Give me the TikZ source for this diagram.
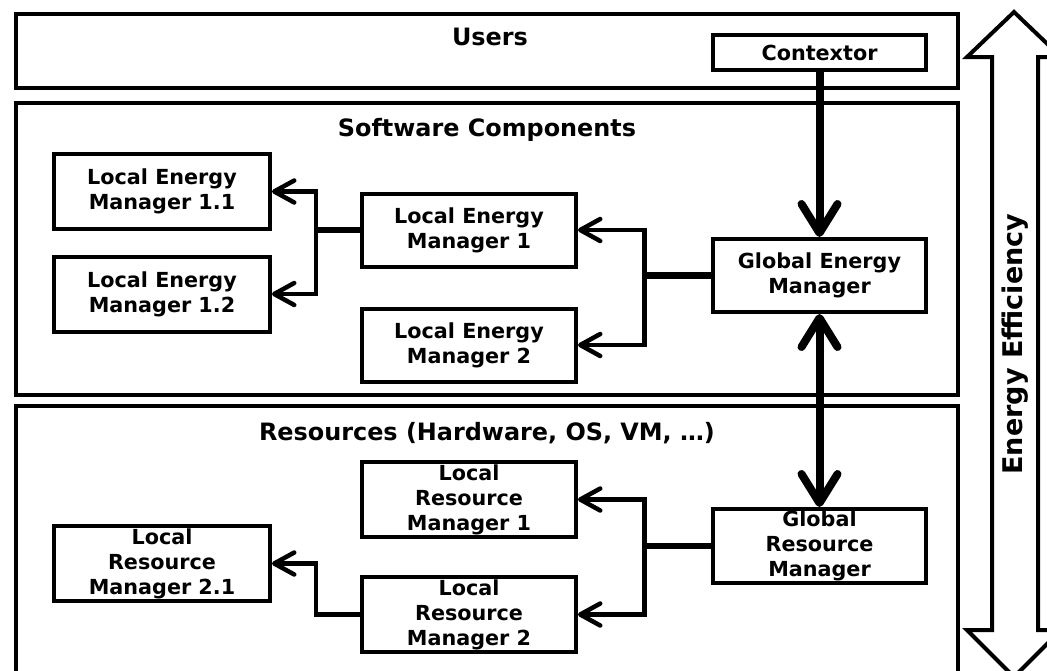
\documentclass[tikz,border=0pt]{standalone}
\usepackage{fontspec}
\setmainfont{DejaVu Sans}
\usetikzlibrary{arrows.meta,positioning,calc}

\begin{document}
\begin{tikzpicture}[
  x=0.02cm, y=-0.02cm,
  font=\fontsize{11.8}{14.2}\selectfont\bfseries,
  layer/.style={draw,line width=0.08cm,minimum width=18.84cm,inner sep=0pt},
  ttl/.style={inner sep=0pt,font=\fontsize{13.6}{16}\selectfont\bfseries},
  comp/.style={draw,line width=0.08cm,align=center,minimum width=4.28cm,minimum height=1.46cm,inner sep=0pt},
  ar/.style={line width=0.09cm,>={Straight Barb[length=0.4cm,width=0.44cm,round]}},
  stem/.style={line width=0.13cm},
  bigar/.style={line width=0.16cm,>={Straight Barb[length=0.58cm,width=0.72cm,round]}}
]
\useasboundingbox (0,0) rectangle (1047,670);
\clip (0,0) rectangle (1047,670);

% layers
\node[layer,minimum height=1.48cm] (users) at (487,51) {};
\node[layer,minimum height=5.84cm] (soft) at (487,249) {};
\node[layer,minimum height=5.84cm] (res) at (487,552) {};
\node[ttl] (userst) at (490,37) {Users};
\node[ttl] (softt) at (487,130) {Software Components};
\node[ttl] (rest) at (487,433) {Resources (Hardware, OS, VM, \dots)};

% components
\node[comp,minimum height=0.7cm,minimum width=4.26cm] (ctx) at (819.5,52.5) {Contextor};
\node[comp] (gem) at (819.5,275.5) {Global Energy\\Manager};
\node[comp,minimum height=1.48cm] (grm) at (819.5,546) {Global\\Resource\\Manager};
\node[comp] (lem1) at (469,230) {Local Energy\\Manager 1};
\node[comp] (lem2) at (469,345) {Local Energy\\Manager 2};
\node[comp,minimum width=4.32cm,minimum height=1.5cm] (lem11) at (162,191.5) {Local Energy\\Manager 1.1};
\node[comp,minimum width=4.32cm,minimum height=1.5cm] (lem12) at (162,294) {Local Energy\\Manager 1.2};
\node[comp,minimum height=1.5cm] (lrm1) at (469,499.5) {Local\\Resource\\Manager 1};
\node[comp,minimum height=1.5cm] (lrm2) at (469,614.5) {Local\\Resource\\Manager 2};
\node[comp,minimum width=4.32cm,minimum height=1.5cm] (lrm21) at (162,563.5) {Local\\Resource\\Manager 2.1};

% energy efficiency arrow
\draw[line width=0.08cm] (1014,12) -- (1061,57) -- (1038,57) -- (1038,630) -- (1061,630)
  -- (1014,677) -- (967,630) -- (992,630) -- (992,57) -- (967,57) -- cycle;
\node[ttl,rotate=90,font=\fontsize{15.4}{18}\selectfont\bfseries] (eff) at (1015,344) {Energy Efficiency};

% connectors
\draw[bigar,->] (ctx) -- (gem);
\draw[bigar,<->] (gem) -- (grm);

\coordinate (gj) at ($(gem.west)+(-66,0)$);
\draw[stem] (gem.west) -- (gj);
\draw[ar,->] (gj) |- (lem1.east);
\draw[ar,->] (gj) |- (lem2.east);

\coordinate (lj) at ($(lem1.west)+(-44,0)$);
\draw[stem] (lem1.west) -- (lj);
\draw[ar,->] (lj) |- (lem11.east);
\draw[ar,->] (lj) |- (lem12.east);

\coordinate (rj) at ($(grm.west)+(-66,0)$);
\draw[stem] (grm.west) -- (rj);
\draw[ar,->] (rj) |- (lrm1.east);
\draw[ar,->] (rj) |- (lrm2.east);

\draw[ar,->] (lrm2.west) -- ++(-44,0) |- (lrm21.east);
\end{tikzpicture}
\end{document}
